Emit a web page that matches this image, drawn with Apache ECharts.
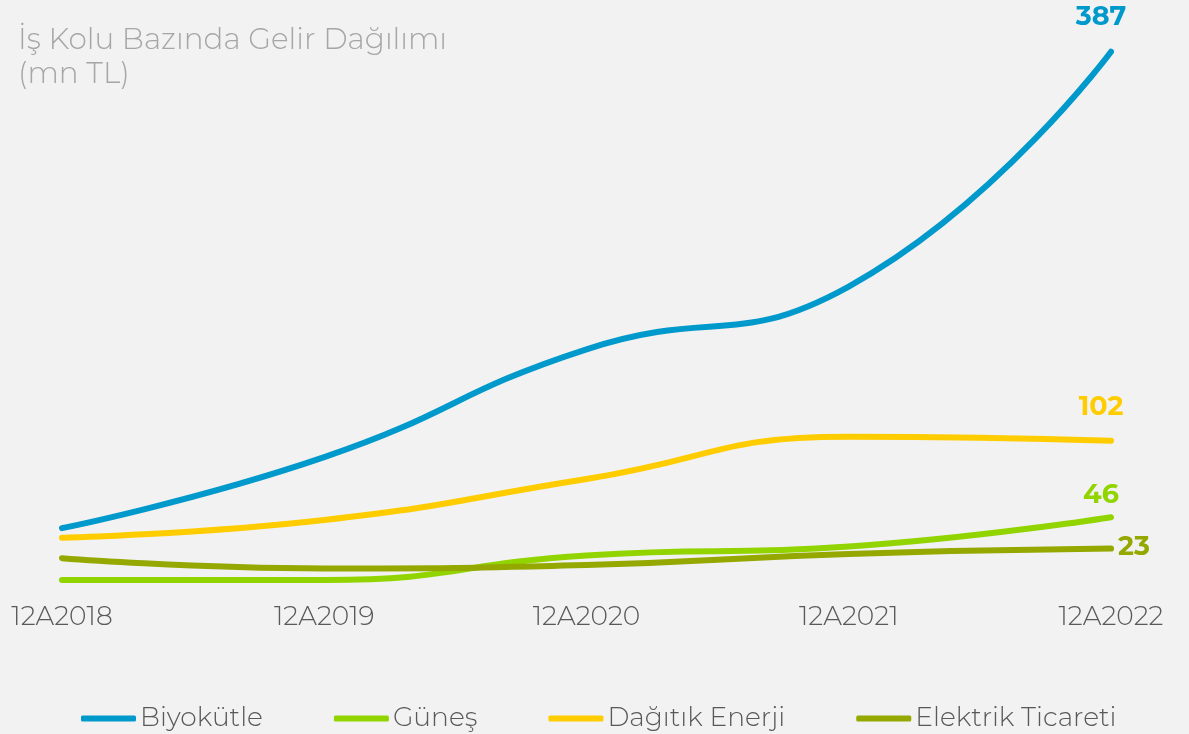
<!DOCTYPE html>
<html>
<head>
<meta charset="utf-8">
<script src="https://cdn.jsdelivr.net/npm/echarts@6/dist/echarts.min.js"></script>
<style>
html,body{margin:0;padding:0;background:#f2f2f2;}
#c{width:1189px;height:734px;}
</style>
</head>
<body>
<div id="c"></div>
<script>
const categories = ['12A2018', '12A2019', '12A2020', '12A2021', '12A2022'];
const biyokutle = [38, 90, 169, 215, 387];
const gunes = [0, 0, 18, 24.5, 46];
const dagitik = [31, 44, 74, 105, 102];
const elektrik = [16, 8.5, 11, 19, 23];
const seriesNames = ['Biyokütle', 'Güneş', 'Dağıtık Enerji', 'Elektrik Ticareti'];
const colors = ['#0099cc', '#92d400', '#ffcc00', '#94a800'];
const FONT = 'Montserrat, Lato, "Open Sans", sans-serif';

function withEndLabel(arr, color, pos, offset) {
  return arr.map((v, i) => {
    if (i !== arr.length - 1) return v;
    return {
      value: v,
      label: {
        show: true, position: pos, offset: offset,
        formatter: String(v),
        color: color, fontSize: 27, fontWeight: 'bold', fontFamily: FONT
      }
    };
  });
}

const datas = [biyokutle, gunes, dagitik, elektrik];
const labelPos = [['top', [-10, -16]], ['top', [-10, -4]], ['top', [-10, -15]], ['right', [2, -2]]];

const chart = echarts.init(document.getElementById('c'));
chart.setOption({
  backgroundColor: '#f2f2f2',
  animation: false,
  title: {
    text: 'İş Kolu Bazında Gelir Dağılımı\n(mn TL)',
    left: 13, top: 18,
    textStyle: { color: '#a6a6a6', fontSize: 29.5, fontWeight: 300, fontFamily: FONT, lineHeight: 34 }
  },
  legend: {
    top: 700, left: 76,
    itemWidth: 55, itemHeight: 6, itemGap: 71,
    icon: 'roundRect',
    data: seriesNames,
    textStyle: { color: '#595959', fontSize: 26.5, fontWeight: 300, fontFamily: FONT, padding: [0, 0, 0, -1] }
  },
  grid: { left: 62, right: 78, top: 34, bottom: 154, containLabel: false },
  xAxis: {
    type: 'category', data: categories, boundaryGap: false,
    axisLine: { show: false }, axisTick: { show: false }, splitLine: { show: false },
    axisLabel: { color: '#595959', fontSize: 26.5, fontWeight: 300, fontFamily: FONT, margin: 24 }
  },
  yAxis: {
    type: 'value', min: 0, max: 400, show: false, splitLine: { show: false }
  },
  series: datas.map((d, i) => ({
    name: seriesNames[i],
    type: 'line',
    smooth: 0.5,
    symbol: 'circle',
    symbolSize: 0,
    showSymbol: true,
    lineStyle: { width: 6, color: colors[i], cap: 'round' },
    itemStyle: { color: colors[i] },
    data: withEndLabel(d, colors[i], labelPos[i][0], labelPos[i][1])
  }))
});
</script>
</body>
</html>
